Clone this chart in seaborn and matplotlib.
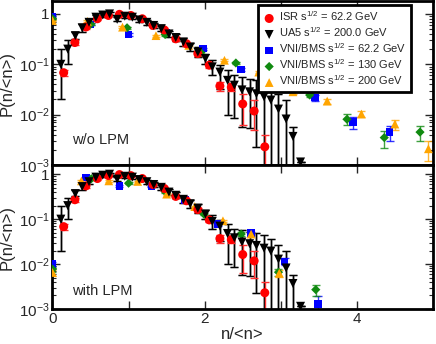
import numpy as np
import pandas as pd
import matplotlib
matplotlib.use('Agg')
import matplotlib.pyplot as plt
import seaborn as sns
from matplotlib.ticker import LogLocator, FixedLocator, NullFormatter, FuncFormatter

# UA5 s^1/2 = 200 GeV (same data in both panels)
ua5_x = [0.11, 0.20, 0.30, 0.39, 0.48, 0.57, 0.66, 0.75, 0.85, 0.95, 1.05, 1.14,
         1.24, 1.33, 1.43, 1.53, 1.62, 1.72, 1.81, 1.91, 2.01, 2.10, 2.20, 2.30,
         2.39, 2.49, 2.59, 2.68, 2.78, 2.87, 2.97, 3.07, 3.16, 3.26]
ua5_y = [0.10, 0.20, 0.37, 0.53, 0.68, 0.86, 0.95, 1.0, 0.78, 0.90, 0.86, 0.76,
         0.68, 0.59, 0.51, 0.40, 0.34, 0.276, 0.22, 0.175, 0.13, 0.089, 0.07, 0.048,
         0.0385, 0.031, 0.0284, 0.026, 0.0226, 0.0195, 0.0129, 0.0082, 0.0037, 0.00115]
ua5_lo = [0.02, 0.103, 0.32, 0.435, 0.60, 0.80, 0.88, 0.93, 0.72, 0.83, 0.79, 0.69,
          0.61, 0.52, 0.45, 0.35, 0.29, 0.23, 0.18, 0.14, 0.10, 0.06, 0.033, 0.0099,
          0.0085, 0.0058, 0.0054, 0.0023, 0.0001, 0.0001, 0.0001, 0.0001, 0.0001, 0.00115]
ua5_hi = [0.20, 0.30, 0.435, 0.635, 0.78, 0.93, 1.02, 1.07, 0.85, 0.97, 0.93, 0.83,
          0.75, 0.66, 0.57, 0.46, 0.40, 0.33, 0.27, 0.22, 0.16, 0.124, 0.0955, 0.076,
          0.06, 0.056, 0.052, 0.048, 0.0447, 0.0357, 0.026, 0.0195, 0.0058, 0.00115]

# ISR s^1/2 = 62.2 GeV
isr_x = [0.147, 0.294, 0.44, 0.59, 0.735, 0.88, 1.03, 1.18, 1.32, 1.47, 1.62, 1.76,
         1.91, 2.06, 2.20, 2.35, 2.50, 2.65, 2.79]
isr_y = [0.068, 0.27, 0.55, 0.80, 0.93, 0.98, 0.93, 0.80, 0.59, 0.48, 0.32, 0.256,
         0.163, 0.096, 0.037, 0.035, 0.0163, 0.0118, 0.0023]
isr_lo = [0.058, 0.24, 0.50, 0.74, 0.87, 0.92, 0.87, 0.75, 0.55, 0.44, 0.29, 0.23,
          0.145, 0.085, 0.030, 0.029, 0.0062, 0.005, 0.0001]
isr_hi = [0.078, 0.30, 0.60, 0.86, 0.99, 1.04, 0.99, 0.86, 0.63, 0.52, 0.35, 0.28,
          0.18, 0.107, 0.045, 0.043, 0.026, 0.0195, 0.004]

# VNI/BMS without LPM
b62_x = [0.0, 0.50, 1.00, 1.49, 1.98, 2.48, 3.45, 3.95, 4.43]
b62_y = [0.89, 0.62, 0.39, 0.43, 0.204, 0.0785, 0.022, 0.0071, 0.0045]
b62_e = [0.04, 0.03, 0.02, 0.02, 0.01, 0.005, 0.003, 0.002, 0.0015]
b130_x = [0.0, 0.50, 0.98, 1.48, 1.95, 2.41, 3.38, 3.87, 4.36, 4.83]
b130_y = [0.80, 0.62, 0.53, 0.39, 0.17, 0.106, 0.0245, 0.0081, 0.0035, 0.0045]
b130_e = [0.04, 0.03, 0.02, 0.02, 0.01, 0.006, 0.0025, 0.002, 0.0013, 0.0015]
b200_x = [0.0, 0.46, 0.92, 1.36, 1.79, 2.26, 2.71, 3.16, 3.61, 4.06, 4.50, 4.94]
b200_y = [0.74, 0.71, 0.545, 0.37, 0.237, 0.12, 0.07, 0.0284, 0.0186, 0.0103, 0.0065, 0.0021]
b200_e = [0.03, 0.03, 0.02, 0.015, 0.01, 0.006, 0.004, 0.0025, 0.002, 0.0015, 0.0015, 0.0009]

# VNI/BMS with LPM
l62_x = [0.0, 0.44, 0.88, 1.30, 1.74, 2.17, 2.61, 3.05, 3.49]
l62_y = [0.010, 0.84, 0.55, 0.53, 0.27, 0.077, 0.049, 0.0115, 0.0013]
l62_e = [0.001, 0.04, 0.03, 0.02, 0.01, 0.005, 0.004, 0.002, 0.0006]
l130_x = [0.0, 0.51, 1.00, 1.48, 1.99, 2.48, 2.97, 3.46]
l130_y = [0.0077, 0.79, 0.63, 0.41, 0.129, 0.0465, 0.0066, 0.0027]
l130_e = [0.001, 0.04, 0.03, 0.02, 0.008, 0.004, 0.0012, 0.0008]
l200_x = [0.0, 0.38, 0.74, 1.12, 1.50, 1.87, 2.24, 2.61, 2.98]
l200_y = [0.0065, 0.71, 0.71, 0.69, 0.36, 0.19, 0.092, 0.0465, 0.0063]
l200_e = [0.001, 0.03, 0.03, 0.03, 0.015, 0.01, 0.005, 0.003, 0.0012]

lab_isr = r'ISR s$^{1/2}$ = 62.2 GeV'
lab_ua5 = r'UA5 s$^{1/2}$ = 200.0 GeV'
lab_62 = r'VNI/BMS s$^{1/2}$ = 62.2 GeV'
lab_130 = r'VNI/BMS s$^{1/2}$ = 130 GeV'
lab_200 = r'VNI/BMS s$^{1/2}$ = 200 GeV'

sns.set_style('ticks')
plt.rcParams['font.family'] = ['Liberation Sans', 'DejaVu Sans']
plt.rcParams['mathtext.fontset'] = 'custom'
plt.rcParams['mathtext.rm'] = 'Liberation Sans'
plt.rcParams['mathtext.it'] = 'Liberation Sans:italic'

fig = plt.figure(figsize=(4.36, 3.44), dpi=100)
ax1 = fig.add_axes([0.1204, 0.5203, 0.8726, 0.4767])
ax2 = fig.add_axes([0.1204, 0.1017, 0.8726, 0.4186])


def yfmt(v, pos):
    if abs(v - 1) < 1e-9:
        return '1'
    return r'10$^{%d}$' % int(round(np.log10(v)))


def draw_errors(ax, x, y, lo, hi, color, lw=1.0, alpha=1.0):
    y = np.array(y)
    ax.errorbar(x, y, yerr=[y - np.array(lo), np.array(hi) - y], fmt='none',
                ecolor=color, elinewidth=lw, capsize=3, capthick=1, alpha=alpha)


def draw_model(ax, x, y, e, color, marker, size, label):
    y = np.array(y)
    e = np.array(e)
    draw_errors(ax, x, y, y - e, y + e, color, lw=1.0, alpha=0.8)
    sns.scatterplot(x=x, y=y, ax=ax, marker=marker, color=color, s=size,
                    edgecolor='none', label=label, zorder=4)


def draw_data(ax):
    draw_errors(ax, ua5_x, ua5_y, ua5_lo, ua5_hi, '#8a8a8a', lw=1.8)
    draw_errors(ax, ua5_x, ua5_y, ua5_lo, ua5_hi, 'black', lw=0.8)
    draw_errors(ax, isr_x, isr_y, isr_lo, isr_hi, '#ff3030', lw=1.0)
    sns.scatterplot(x=isr_x, y=isr_y, ax=ax, marker='o', color='red', s=42,
                    edgecolor='none', label=lab_isr, zorder=5)
    sns.scatterplot(x=ua5_x, y=ua5_y, ax=ax, marker='v', color='black', s=42,
                    edgecolor='none', label=lab_ua5, zorder=5)


draw_data(ax1)
draw_model(ax1, b62_x, b62_y, b62_e, '#0000ff', 's', 30, lab_62)
draw_model(ax1, b130_x, b130_y, b130_e, '#108a10', 'D', 22, lab_130)
draw_model(ax1, b200_x, b200_y, b200_e, '#ffa500', '^', 40, lab_200)

draw_data(ax2)
draw_model(ax2, l62_x, l62_y, l62_e, '#0000ff', 's', 30, None)
draw_model(ax2, l130_x, l130_y, l130_e, '#108a10', 'D', 22, None)
draw_model(ax2, l200_x, l200_y, l200_e, '#ffa500', '^', 40, None)

for ax, top in [(ax1, 1.8), (ax2, 1.6)]:
    ax.set_yscale('log')
    ax.set_xlim(0, 5)
    ax.set_ylim(1e-3, top)
    ax.xaxis.set_major_locator(FixedLocator([0, 1, 2, 3, 4]))
    ax.yaxis.set_major_locator(FixedLocator([1e-3, 1e-2, 1e-1, 1]))
    ax.yaxis.set_minor_locator(LogLocator(base=10, subs=np.arange(2, 10), numticks=20))
    ax.yaxis.set_minor_formatter(NullFormatter())
    ax.yaxis.set_major_formatter(FuncFormatter(yfmt))
    ax.tick_params(which='both', direction='in', top=True, right=True)
    ax.tick_params(which='major', length=6, width=1, labelsize=11, pad=2)
    ax.tick_params(which='minor', length=3, width=0.8)
    for sp in ax.spines.values():
        sp.set_linewidth(2)
        sp.set_color('black')
    ax.set_ylabel('P(n/<n>)', fontsize=12, labelpad=2)
    ax.yaxis.set_label_coords(-0.1, 0.5)

ax1.tick_params(axis='x', labelbottom=False)
ax2.xaxis.set_major_formatter(FuncFormatter(lambda v, p: '%d' % v if int(v) % 2 == 0 else ''))
ax2.set_xlabel('n/<n>', fontsize=12, labelpad=1)

ax1.text(0.05, 0.13, 'w/o LPM', transform=ax1.transAxes, fontsize=10.5)
ax2.text(0.05, 0.10, 'with LPM', transform=ax2.transAxes, fontsize=10.5)

leg = ax1.legend(loc='upper right', bbox_to_anchor=(0.942, 0.975), fontsize=8,
                 frameon=True, fancybox=False, framealpha=1, edgecolor='black',
                 handletextpad=0.3, borderpad=0.4, labelspacing=0.2,
                 handlelength=1.2, borderaxespad=0)
leg.get_frame().set_linewidth(2)
leg.set_zorder(10)
if ax2.get_legend() is not None:
    ax2.get_legend().remove()

fig.savefig('out.png', dpi=100)
